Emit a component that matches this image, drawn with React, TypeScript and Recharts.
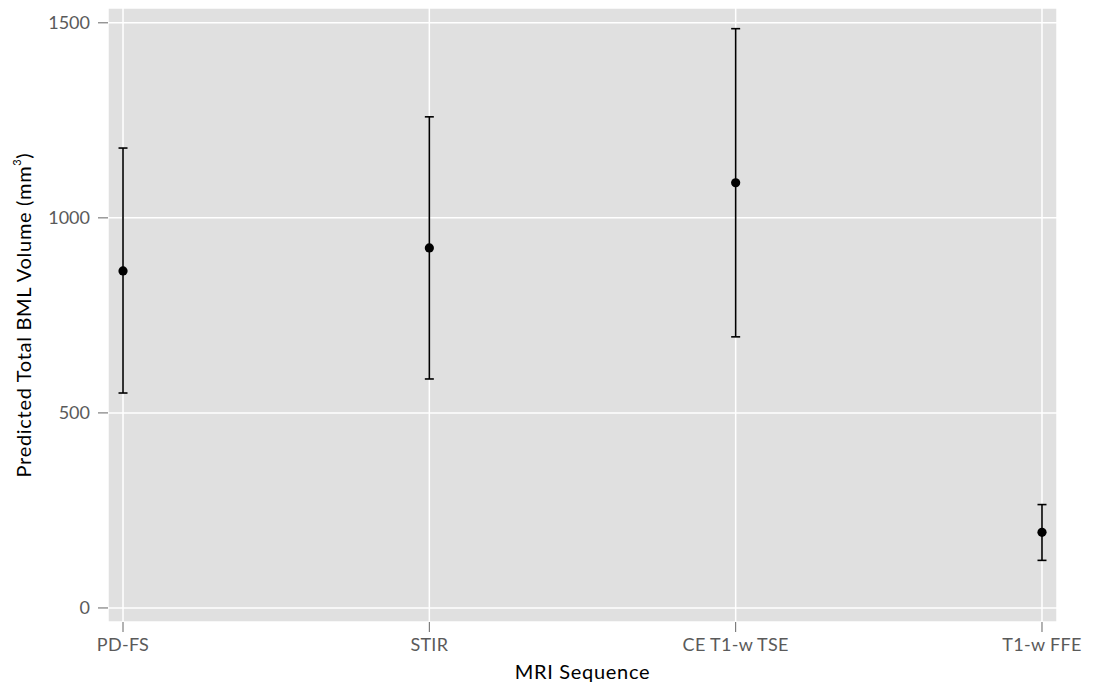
import React from 'react';
import { ComposedChart, Scatter, ErrorBar, XAxis, YAxis, CartesianGrid } from 'recharts';

const sequences = ['PD-FS', 'STIR', 'CE T1-w TSE', 'T1-w FFE'];
const predicted = [864, 923, 1090, 194];
const lower = [551, 587, 695, 122];
const upper = [1179, 1259, 1485, 265];

const yTicks = [0, 500, 1000, 1500];

const data = sequences.map((name, i) => ({
  x: i + 1,
  name,
  y: predicted[i],
  err: [predicted[i] - lower[i], upper[i] - predicted[i]],
}));

const FONT = 'Lato, "Open Sans", sans-serif';

const Dot = (props: any) => <circle cx={props.cx} cy={props.cy} r={4.6} fill="#000" />;

const YTitle = (props: any) => {
  const vb = props.viewBox || { x: 0, y: 0, width: 0, height: 0 };
  const cx = 23;
  const cy = vb.y + vb.height / 2;
  return (
    <text
      x={cx}
      y={cy}
      transform={`rotate(-90, ${cx}, ${cy})`}
      textAnchor="middle"
      dominantBaseline="central"
      fontFamily={FONT}
      fontSize={20}
      letterSpacing={0.7}
      fill="#000"
    >
      Predicted Total BML Volume (mm
      <tspan dy={-7} fontSize={11}>3</tspan>
      <tspan dy={7}>)</tspan>
    </text>
  );
};

export default function App() {
  return (
    <div style={{ position: 'absolute', left: 0, top: 0, background: '#fff' }}>
      <ComposedChart
        width={1093}
        height={684}
        data={data}
        margin={{ top: 8, right: 36, bottom: 0, left: 0 }}
      >
        <CartesianGrid fill="#e0e0e0" stroke="#ffffff" strokeWidth={1.5} />
        <XAxis
          dataKey="x"
          type="number"
          domain={[0.951, 4.049]}
          ticks={[1, 2, 3, 4]}
          tickFormatter={(v: number) => sequences[v - 1]}
          height={62}
          axisLine={false}
          tickSize={10}
          tickMargin={6}
          tickLine={{ stroke: '#666', strokeWidth: 1 }}
          tick={{ fill: '#5a5a5a', fontSize: 18, fontFamily: FONT, letterSpacing: 0.3 }}
          label={{ value: 'MRI Sequence', position: 'insideBottom', offset: 5, fill: '#000', fontSize: 20, fontFamily: FONT, letterSpacing: 0.7 }}
          allowDataOverflow
        />
        <YAxis
          dataKey="y"
          type="number"
          domain={[-36, 1538]}
          ticks={yTicks}
          width={108}
          axisLine={false}
          tickSize={10}
          tickMargin={8}
          tickLine={{ stroke: '#666', strokeWidth: 1 }}
          tick={{ fill: '#5a5a5a', fontSize: 18, fontFamily: FONT }}
          label={{ content: <YTitle /> }}
          allowDataOverflow
        />
        <Scatter dataKey="y" fill="#000" shape={<Dot />} isAnimationActive={false}>
          <ErrorBar dataKey="err" direction="y" width={4.5} stroke="#000" strokeWidth={1.6} isAnimationActive={false} />
        </Scatter>
      </ComposedChart>
    </div>
  );
}
